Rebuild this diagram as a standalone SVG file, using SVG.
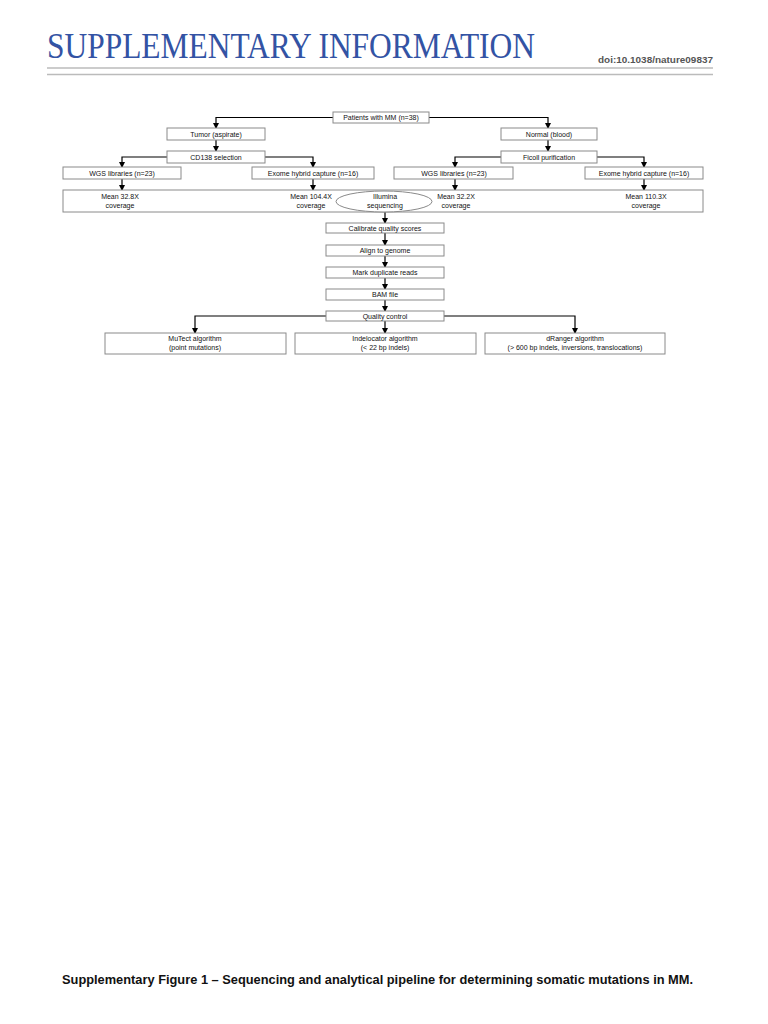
<svg xmlns="http://www.w3.org/2000/svg" width="768" height="1024" viewBox="0 0 768 1024">
<style>
.box{fill:#fff;stroke:#8a8a8a;stroke-width:1}
.t{font-family:"Liberation Sans",Arial,sans-serif;font-size:7px;fill:#111;text-anchor:middle}
.c{fill:none;stroke:#000;stroke-width:1.2}
</style>
<defs>
<marker id="ah" markerUnits="userSpaceOnUse" markerWidth="6" markerHeight="6" refX="5" refY="3" orient="auto">
<path d="M0,0 L6,3 L0,6 z" fill="#000"/>
</marker>
</defs>
<rect width="768" height="1024" fill="#fff"/>
<g id="header">
<text x="47" y="58" font-family="Liberation Serif,'Times New Roman',serif" font-size="35" fill="#3353a4" textLength="488" lengthAdjust="spacingAndGlyphs">SUPPLEMENTARY INFORMATION</text>
<text x="713" y="63" font-family="Liberation Sans,Arial,sans-serif" font-size="9.5" font-weight="bold" fill="#555" text-anchor="end" textLength="115" lengthAdjust="spacingAndGlyphs">doi:10.1038/nature09837</text>
<line x1="47" y1="68" x2="713" y2="68" stroke="#bbb" stroke-width="1.5"/>
<line x1="47" y1="74.5" x2="713" y2="74.5" stroke="#bbb" stroke-width="1.5"/>
</g>
<g id="connectors">
<polyline class="c" points="333,117.5 216,117.5 216,128" marker-end="url(#ah)"/>
<polyline class="c" points="429,117.5 548,117.5 548,128" marker-end="url(#ah)"/>
<line class="c" x1="216" y1="140" x2="216" y2="151" marker-end="url(#ah)"/>
<line class="c" x1="548" y1="140" x2="548" y2="151" marker-end="url(#ah)"/>
<polyline class="c" points="167,157 122,157 122,167" marker-end="url(#ah)"/>
<polyline class="c" points="265,157 313,157 313,167" marker-end="url(#ah)"/>
<polyline class="c" points="501,157 455,157 455,167" marker-end="url(#ah)"/>
<polyline class="c" points="597,157 644,157 644,167" marker-end="url(#ah)"/>
<line class="c" x1="122" y1="179" x2="122" y2="190" marker-end="url(#ah)"/>
<line class="c" x1="313" y1="179" x2="313" y2="190" marker-end="url(#ah)"/>
<line class="c" x1="455" y1="179" x2="455" y2="190" marker-end="url(#ah)"/>
<line class="c" x1="644" y1="179" x2="644" y2="190" marker-end="url(#ah)"/>
<line class="c" x1="385" y1="212" x2="385" y2="223" marker-end="url(#ah)"/>
<line class="c" x1="385" y1="233" x2="385" y2="245" marker-end="url(#ah)"/>
<line class="c" x1="385" y1="256" x2="385" y2="267" marker-end="url(#ah)"/>
<line class="c" x1="385" y1="278" x2="385" y2="289" marker-end="url(#ah)"/>
<line class="c" x1="385" y1="300" x2="385" y2="311" marker-end="url(#ah)"/>
<polyline class="c" points="326,316 195,316 195,333" marker-end="url(#ah)"/>
<line class="c" x1="385" y1="321" x2="385" y2="333" marker-end="url(#ah)"/>
<polyline class="c" points="444,316 575,316 575,333" marker-end="url(#ah)"/>
</g>
<g id="patients"><rect class="box" x="333" y="112" width="96" height="11"/><text class="t" x="381" y="120">Patients with MM (n=38)</text></g>
<g id="tumor"><rect class="box" x="167" y="128" width="98" height="12"/><text class="t" x="216" y="136.5">Tumor (aspirate)</text></g>
<g id="normal"><rect class="box" x="501" y="128" width="96" height="12"/><text class="t" x="549" y="136.5">Normal (blood)</text></g>
<g id="cd138"><rect class="box" x="167" y="151" width="98" height="12"/><text class="t" x="216" y="159.5">CD138 selection</text></g>
<g id="ficoll"><rect class="box" x="501" y="151" width="96" height="12"/><text class="t" x="549" y="159.5">Ficoll purification</text></g>
<g id="wgs-tumor"><rect class="box" x="63" y="167" width="118" height="12"/><text class="t" x="122" y="175.5">WGS libraries (n=23)</text></g>
<g id="exome-tumor"><rect class="box" x="252" y="167" width="122" height="12"/><text class="t" x="313" y="175.5">Exome hybrid capture (n=16)</text></g>
<g id="wgs-normal"><rect class="box" x="394" y="167" width="119" height="12"/><text class="t" x="454" y="175.5">WGS libraries (n=23)</text></g>
<g id="exome-normal"><rect class="box" x="585" y="167" width="118" height="12"/><text class="t" x="644" y="175.5">Exome hybrid capture (n=16)</text></g>
<g id="coverage">
<rect class="box" x="63" y="190" width="640" height="22"/>
<text class="t" x="120" y="198.5">Mean 32.8X</text><text class="t" x="120" y="207.5">coverage</text>
<text class="t" x="311" y="198.5">Mean 104.4X</text><text class="t" x="311" y="207.5">coverage</text>
<text class="t" x="456" y="198.5">Mean 32.2X</text><text class="t" x="456" y="207.5">coverage</text>
<text class="t" x="646" y="198.5">Mean 110.3X</text><text class="t" x="646" y="207.5">coverage</text>
</g>
<g id="illumina"><ellipse cx="384" cy="201.5" rx="48" ry="10.5" fill="#fff" stroke="#8a8a8a" stroke-width="1"/><text class="t" x="385" y="199">Illumina</text><text class="t" x="385" y="208">sequencing</text></g>
<g id="calibrate"><rect class="box" x="326" y="223" width="118" height="10"/><text class="t" x="385" y="230.5">Calibrate quality scores</text></g>
<g id="align"><rect class="box" x="326" y="245" width="118" height="11"/><text class="t" x="385" y="252.5">Align to genome</text></g>
<g id="mark"><rect class="box" x="326" y="267" width="118" height="11"/><text class="t" x="385" y="274.5">Mark duplicate reads</text></g>
<g id="bam"><rect class="box" x="326" y="289" width="118" height="11"/><text class="t" x="385" y="296.5">BAM file</text></g>
<g id="qc"><rect class="box" x="326" y="311" width="118" height="10"/><text class="t" x="385" y="318.5">Quality control</text></g>
<g id="mutect"><rect class="box" x="105" y="333" width="181" height="21"/><text class="t" x="195" y="341">MuTect algorithm</text><text class="t" x="195" y="350">(point mutations)</text></g>
<g id="indelocator"><rect class="box" x="295" y="333" width="181" height="21"/><text class="t" x="385" y="341">Indelocator algorithm</text><text class="t" x="385" y="350">(&lt; 22 bp indels)</text></g>
<g id="dranger"><rect class="box" x="485" y="333" width="180" height="21"/><text class="t" x="575" y="341">dRanger algorithm</text><text class="t" x="575" y="350">(&gt; 600 bp indels, inversions, translocations)</text></g>
<g id="caption"><text x="62" y="984" font-family="Liberation Sans,Arial,sans-serif" font-size="12.5" font-weight="bold" fill="#111" textLength="631" lengthAdjust="spacingAndGlyphs">Supplementary Figure 1 – Sequencing and analytical pipeline for determining somatic mutations in MM.</text></g>
</svg>
